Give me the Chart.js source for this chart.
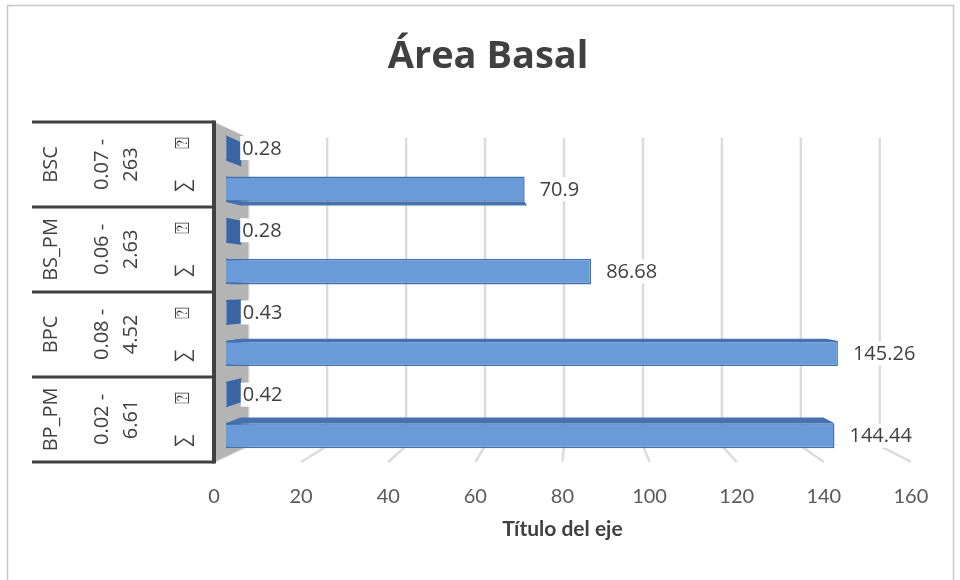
<!DOCTYPE html>
<html>
<head>
<meta charset="utf-8">
<title>Área Basal</title>
<script src="https://cdn.jsdelivr.net/npm/chart.js@4.4.1/dist/chart.umd.min.js"></script>
<style>
  html, body { margin: 0; padding: 0; background: #fff; }
  #wrap { width: 960px; height: 580px; }
</style>
</head>
<body>
<div id="wrap"><canvas id="basalChart" width="960" height="580"></canvas></div>
<script>
// basal area per forest type: mean (⍰) and total (∑)
const groups   = ['BSC', 'BS_PM', 'BPC', 'BP_PM'];
const ranges   = [['0.07 -', '263'], ['0.06 -', '2.63'], ['0.08 -', '4.52'], ['0.02 -', '6.61']];
const measures = ['⍰', '∑'];
const meanVals = [0.28, 0.28, 0.43, 0.42];
const sumVals  = [70.9, 86.68, 145.26, 144.44];
const xTicks   = [0, 20, 40, 60, 80, 100, 120, 140, 160];

const rowLabels = [];
const rowValues = [];
groups.forEach((g, i) => {
  rowLabels.push(g + ' ' + measures[0], g + ' ' + measures[1]);
  rowValues.push(meanVals[i], sumVals[i]);
});

// fake perspective: bars sit in the chart plane, walls are scaled toward VP
const VP = { x: 579, y: 290 };
const FRONT = 1.034, BACK = 0.937, BAR_BACK = 0.957;
const proj = (x, y, r) => [VP.x + (x - VP.x) * r, VP.y + (y - VP.y) * r];

const TEXT = '#404040';
const MUTED = '#595959';

function poly(ctx, pts, fill) {
  ctx.beginPath();
  pts.forEach(([px, py], k) => k ? ctx.lineTo(px, py) : ctx.moveTo(px, py));
  ctx.closePath();
  ctx.fillStyle = fill;
  ctx.fill();
}

function vtext(ctx, lines, cx, cy, lh) {
  ctx.save();
  ctx.translate(cx, cy);
  ctx.rotate(-Math.PI / 2);
  lines.forEach((t, k) => ctx.fillText(t, 0, (k - (lines.length - 1) / 2) * lh));
  ctx.restore();
}

const frame3d = {
  id: 'frame3d',
  beforeDatasetsDraw(chart) {
    const { ctx, chartArea: a, scales: { x } } = chart;
    ctx.save();

    // outer border
    ctx.strokeStyle = '#c8c8c8';
    ctx.lineWidth = 1.5;
    ctx.strokeRect(7.5, 5.5, 946, 600);

    // back wall gridlines + floor lines
    ctx.strokeStyle = '#dcdcdc';
    ctx.lineWidth = 2.5;
    xTicks.forEach(v => {
      const px = x.getPixelForValue(v);
      const [bx, bt] = proj(px, a.top, BACK);
      const [, bb] = proj(px, a.bottom, BACK);
      const [fx, fb] = proj(px, a.bottom, FRONT);
      ctx.beginPath();
      ctx.moveTo(bx, bt);
      ctx.lineTo(bx, bb);
      ctx.lineTo(fx, fb);
      ctx.stroke();
    });

    // left side wall
    poly(ctx, [
      proj(a.left, a.top, FRONT), proj(a.left, a.bottom, FRONT),
      proj(a.left, a.bottom, BACK), proj(a.left, a.top, BACK)
    ], '#b4b4b4');

    // bar depth: left cap and top/bottom face
    chart.getDatasetMeta(0).data.forEach(bar => {
      const { x: xe, y, base, height } = bar.getProps(['x', 'y', 'base', 'height'], true);
      const top = y - height / 2, bot = y + height / 2;
      poly(ctx, [[base, top], [base, bot], proj(base, bot, BAR_BACK), proj(base, top, BAR_BACK)], '#3a64a2');
      const edge = bot < VP.y ? bot : top;
      poly(ctx, [[base, edge], [xe, edge], proj(xe, edge, BAR_BACK), proj(base, edge, BAR_BACK)], '#4672b0');
    });
    ctx.restore();
  },

  afterDatasetsDraw(chart) {
    const { ctx, chartArea: a, scales: { x, y } } = chart;
    ctx.save();

    // value labels
    ctx.font = '20px "Open Sans"';
    ctx.textAlign = 'left';
    ctx.textBaseline = 'middle';
    chart.getDatasetMeta(0).data.forEach((bar, i) => {
      const t = String(rowValues[i]);
      const tx = bar.x + 15;
      const w = ctx.measureText(t).width;
      ctx.fillStyle = '#fff';
      ctx.fillRect(tx - 2, bar.y - 12, w + 4, 24);
      ctx.fillStyle = TEXT;
      ctx.fillText(t, tx, bar.y + 1);
    });

    // category table on the front plane
    const fy = v => proj(0, v, FRONT)[1];
    const axX = proj(a.left, 0, FRONT)[0];
    const half = Math.abs(y.getPixelForValue(1) - y.getPixelForValue(0)) / 2;

    ctx.strokeStyle = TEXT;
    ctx.lineWidth = 3;
    for (let g = 0; g <= groups.length; g++) {
      const yy = g < groups.length ? fy(y.getPixelForValue(2 * g) - half) : fy(a.bottom);
      ctx.beginPath();
      ctx.moveTo(32, yy);
      ctx.lineTo(axX, yy);
      ctx.stroke();
    }
    ctx.lineWidth = 4;
    ctx.beginPath();
    ctx.moveTo(axX, fy(a.top) - 1.5);
    ctx.lineTo(axX, fy(a.bottom) + 1.5);
    ctx.stroke();

    ctx.fillStyle = TEXT;
    ctx.font = '20px "Open Sans"';
    ctx.textAlign = 'center';
    ctx.textBaseline = 'middle';
    groups.forEach((g, i) => {
      const cy = fy((y.getPixelForValue(2 * i) + y.getPixelForValue(2 * i + 1)) / 2);
      vtext(ctx, [g], 51, cy, 0);
      vtext(ctx, ranges[i], 117, cy, 29);
      measures.forEach((m, k) => {
        vtext(ctx, [m], 183, fy(y.getPixelForValue(2 * i + k)), 0);
      });
    });

    // value axis on the front edge of the floor
    ctx.fillStyle = MUTED;
    ctx.font = '20px Lato';
    xTicks.forEach(v => {
      const fx = proj(x.getPixelForValue(v), 0, FRONT)[0];
      ctx.fillText(String(v), fx, 497);
    });
    ctx.fillStyle = TEXT;
    ctx.font = 'bold 21px Lato';
    const midX = (proj(x.left, 0, FRONT)[0] + proj(x.right, 0, FRONT)[0]) / 2;
    ctx.fillText('Título del eje', midX, 529);

    // chart title
    ctx.font = 'bold 38px "Open Sans"';
    ctx.fillText('Área Basal', 488, 57);
    ctx.restore();
  }
};

new Chart(document.getElementById('basalChart'), {
  type: 'bar',
  data: {
    labels: rowLabels,
    datasets: [{
      data: rowValues,
      backgroundColor: '#6a9ad8',
      borderColor: '#4271b0',
      borderWidth: 1.5,
      barPercentage: 0.61,
      categoryPercentage: 1
    }]
  },
  options: {
    indexAxis: 'y',
    responsive: false,
    animation: false,
    devicePixelRatio: 1,
    layout: { padding: { left: 226, right: 60, top: 127.5, bottom: 123.7 } },
    plugins: { legend: { display: false }, tooltip: { enabled: false }, title: { display: false } },
    scales: {
      x: { display: false, min: 0, max: 160 },
      y: { display: false }
    }
  },
  plugins: [frame3d]
});
</script>
</body>
</html>
